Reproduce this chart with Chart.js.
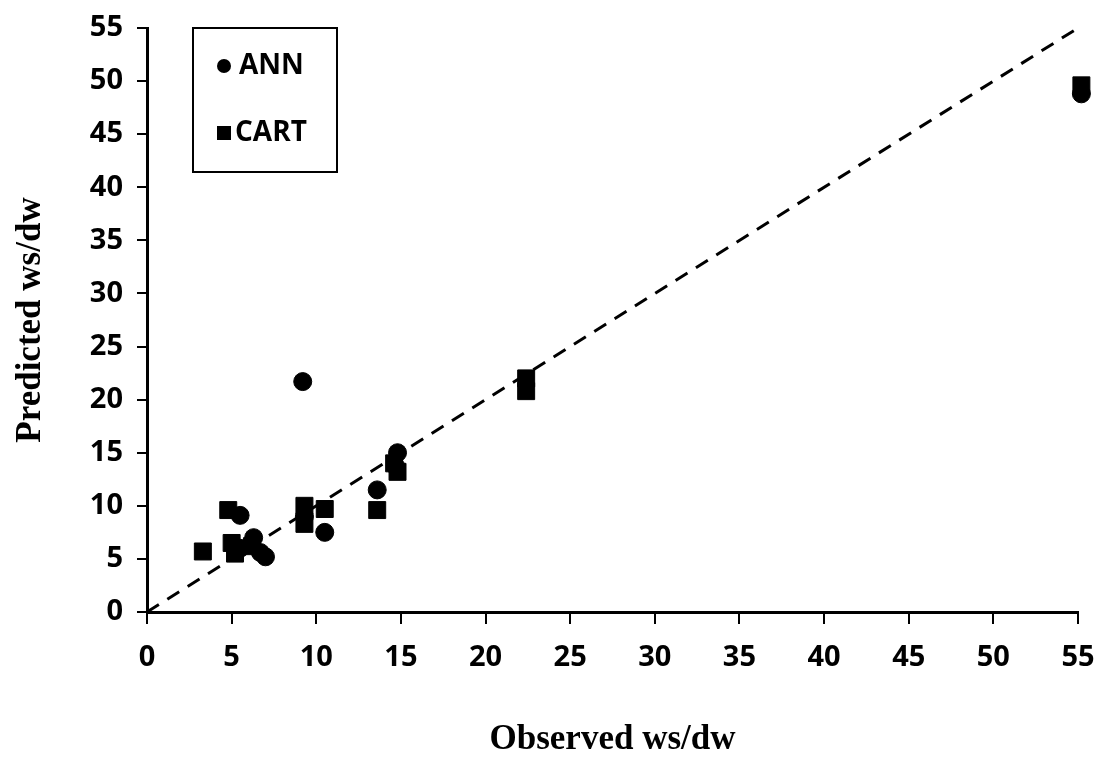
<!DOCTYPE html>
<html>
<head>
<meta charset="utf-8">
<script src="https://cdn.jsdelivr.net/npm/chart.js@4.4.1/dist/chart.umd.min.js"></script>
<style>
  html, body { margin: 0; padding: 0; background: #fff; }
  #wrap { width: 1096px; height: 765px; }
</style>
</head>
<body>
<div id="wrap"><canvas id="scatterChart"></canvas></div>
<script>
// observed vs predicted ws/dw
var annObserved  = [9.2, 5.5, 6.3, 7.0, 6.7, 5.5, 9.3, 10.5, 14.8, 14.7, 13.6, 55.2];
var annPredicted = [21.7, 9.1, 7.0, 5.2, 5.6, 6.0, 9.0, 7.5, 15.0, 13.7, 11.5, 48.8];
var cartObserved  = [3.3, 4.8, 5.0, 5.2, 6.2, 9.3, 9.3, 10.5, 14.6, 14.8, 13.6, 22.4, 22.4, 55.2];
var cartPredicted = [5.7, 9.6, 6.5, 5.5, 6.2, 10.0, 8.3, 9.7, 14.0, 13.2, 9.6, 22.0, 20.8, 49.6];
var diagonal = [0, 55];
var seriesNames = ['ANN', 'CART'];

function toPoints(xs, ys) {
    return xs.map(function (x, i) { return { x: x, y: ys[i] }; });
}

var tickFont = { family: 'Open Sans', size: 29, weight: 'bold' };
var titleFont = { family: 'Liberation Serif', size: 35, weight: 'bold' };

// boxed legend in the top-left corner of the plot
var boxLegend = {
    id: 'boxLegend',
    afterDraw: function (chart) {
        var ctx = chart.ctx;
        var a = chart.chartArea;
        var x0 = a.left + 46, y0 = a.top;
        ctx.save();
        ctx.strokeStyle = '#000';
        ctx.lineWidth = 2;
        ctx.strokeRect(x0, y0, 144, 144);
        ctx.fillStyle = '#000';
        ctx.beginPath();
        ctx.arc(x0 + 31, y0 + 38, 7, 0, Math.PI * 2);
        ctx.fill();
        ctx.fillRect(x0 + 24, y0 + 98, 14, 14);
        ctx.font = 'bold 28px "Open Sans"';
        ctx.textBaseline = 'middle';
        ctx.fillText(seriesNames[0], x0 + 46, y0 + 38);
        ctx.fillText(seriesNames[1], x0 + 42, y0 + 105);
        ctx.restore();
    }
};

var SCATTER = document.getElementById('scatterChart');
var myScatterChart = new Chart(SCATTER, {
    type: 'scatter',
    data: {
        datasets: [
            {
                label: seriesNames[0],
                data: toPoints(annObserved, annPredicted),
                pointStyle: 'circle',
                pointRadius: 9,
                backgroundColor: '#000',
                borderColor: '#000',
                clip: false
            },
            {
                label: seriesNames[1],
                data: toPoints(cartObserved, cartPredicted),
                pointStyle: 'rect',
                pointRadius: 12,
                backgroundColor: '#000',
                borderColor: '#000',
                clip: false
            },
            {
                label: '1:1',
                type: 'line',
                data: toPoints(diagonal, diagonal),
                borderColor: '#000',
                borderWidth: 3,
                borderDash: [14, 10],
                pointRadius: 0,
                fill: false,
                clip: false
            }
        ]
    },
    options: {
        responsive: true,
        maintainAspectRatio: false,
        animation: false,
        layout: { padding: { top: 28, right: 18, left: 0, bottom: 0 } },
        plugins: {
            legend: { display: false },
            tooltip: { enabled: false }
        },
        scales: {
            x: {
                type: 'linear',
                min: 0,
                max: 55,
                afterFit: function (s) {
                    s.height = 153;
                    s.paddingLeft = 0;
                    s.paddingRight = 0;
                },
                border: { color: '#000', width: 3 },
                grid: { drawOnChartArea: false, color: '#000', lineWidth: 2, tickLength: 12 },
                ticks: { stepSize: 5, color: '#000', font: tickFont, padding: 16 },
                title: { display: true, text: 'Observed ws/dw', color: '#000', font: titleFont, padding: { top: 26 } }
            },
            y: {
                min: 0,
                max: 55,
                afterFit: function (s) {
                    s.width = 147;
                    s.paddingTop = 0;
                    s.paddingBottom = 0;
                },
                border: { color: '#000', width: 3 },
                grid: { drawOnChartArea: false, color: '#000', lineWidth: 2, tickLength: 10 },
                ticks: { stepSize: 5, color: '#000', font: tickFont, padding: 14 },
                title: { display: true, text: 'Predicted ws/dw', color: '#000', font: titleFont, padding: { top: 10, bottom: 4 } }
            }
        }
    },
    plugins: [boxLegend]
});
</script>
</body>
</html>
